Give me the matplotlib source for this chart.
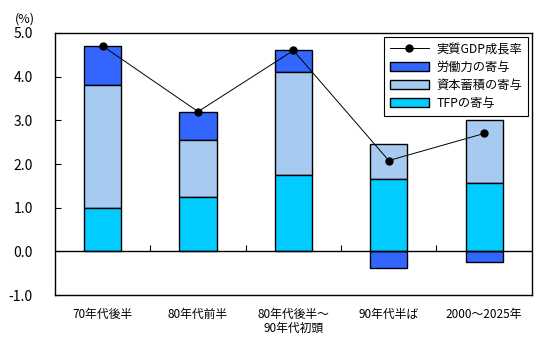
import matplotlib
matplotlib.use('Agg')
import matplotlib.pyplot as plt
import numpy as np

plt.rcParams['font.family'] = ['Noto Sans CJK JP', 'DejaVu Sans']

periods = ['70年代後半', '80年代前半', '80年代後半～\n90年代初頭', '90年代半ば', '2000～2025年']
tfp = [1.0, 1.25, 1.75, 1.65, 1.57]
capital = [2.8, 1.3, 2.35, 0.8, 1.43]
labor = [0.9, 0.65, 0.5, -0.37, -0.24]
gdp = [4.7, 3.2, 4.6, 2.08, 2.7]

x = np.arange(len(periods))
w = 0.39

fig = plt.figure(figsize=(5.5, 3.4), dpi=100)
ax = fig.add_axes([0.1, 0.132, 0.867, 0.771])

tfp = np.array(tfp)
capital = np.array(capital)
labor = np.array(labor)

# positive labor stacks on top, negative labor goes below zero
labor_bottom = np.where(labor >= 0, tfp + capital, 0)

b_lab = ax.bar(x, labor, w, bottom=labor_bottom, color='#3366FF', edgecolor='black', linewidth=1.0, zorder=2)
b_cap = ax.bar(x, capital, w, bottom=tfp, color='#A6CAF0', edgecolor='black', linewidth=1.0, zorder=2)
b_tfp = ax.bar(x, tfp, w, color='#00CCFF', edgecolor='black', linewidth=1.0, zorder=2)
ln, = ax.plot(x, gdp, color='black', linewidth=0.7, marker='o', markersize=5, zorder=3)

ax.axhline(0, color='black', linewidth=1.0, zorder=2)

ax.set_xlim(-0.5, 4.5)
ax.set_ylim(-1.0, 5.0)
yt = np.arange(-1.0, 5.01, 1.0)
ax.set_yticks(yt)
ax.set_yticklabels([f'{v:.1f}' for v in yt], fontsize=10)
ax.tick_params(axis='y', direction='in', length=4, pad=16)
ax.set_xticks(x)
ax.set_xticklabels(periods, fontsize=8.5, linespacing=1.1)
ax.tick_params(axis='x', length=0, pad=9)
for s in ax.spines.values():
    s.set_linewidth(1.0)

# category separator ticks on the zero line
sec = ax.secondary_xaxis(1 / 6)
sec.set_xticks(x[:-1] + 0.5)
sec.tick_params(direction='in', length=4, labelbottom=False)
sec.spines['bottom'].set_visible(False)

fig.text(0.027, 0.935, '(%)', fontsize=9)

leg = ax.legend([ln, b_lab, b_cap, b_tfp], ['実質GDP成長率', '労働力の寄与', '資本蓄積の寄与', 'TFPの寄与'],
                loc='upper right', bbox_to_anchor=(0.997, 0.995), fontsize=8.8, frameon=True,
                fancybox=False, edgecolor='black', framealpha=1, borderpad=0.5,
                handlelength=3.2, handleheight=0.8, handletextpad=0.6, labelspacing=0.4,
                borderaxespad=0.2)
leg.get_frame().set_linewidth(0.8)

fig.savefig('out.png', dpi=100)
